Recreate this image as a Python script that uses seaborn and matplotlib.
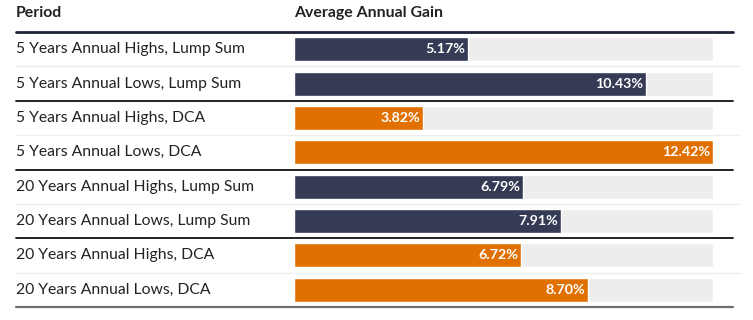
import pandas as pd
import seaborn as sns
import matplotlib.pyplot as plt
from matplotlib.transforms import blended_transform_factory

periods = [
    "5 Years Annual Highs, Lump Sum",
    "5 Years Annual Lows, Lump Sum",
    "5 Years Annual Highs, DCA",
    "5 Years Annual Lows, DCA",
    "20 Years Annual Highs, Lump Sum",
    "20 Years Annual Lows, Lump Sum",
    "20 Years Annual Highs, DCA",
    "20 Years Annual Lows, DCA",
]
gains = [5.17, 10.43, 3.82, 12.42, 6.79, 7.91, 6.72, 8.70]
strategy = ["Lump Sum", "Lump Sum", "DCA", "DCA", "Lump Sum", "Lump Sum", "DCA", "DCA"]

NAVY = "#353a55"
ORANGE = "#e07000"
TRACK = "#ededed"
TEXT = "#222222"

df = pd.DataFrame({"period": periods, "gain": gains, "strategy": strategy})
df["track"] = df["gain"].max()

sns.set_theme(style="white")
plt.rcParams["font.family"] = ["Lato", "DejaVu Sans"]

W, H = 753, 320
fig = plt.figure(figsize=(W / 100, H / 100), dpi=100)

# bar area in pixel terms: x 294..713, rows from y=32 to y=307
x0, x1 = 294, 713
y_top, y_bot = 32, 307
ax = fig.add_axes([x0 / W, 1 - y_bot / H, (x1 - x0) / W, (y_bot - y_top) / H])

sns.barplot(data=df, y="period", x="track", color=TRACK, width=0.7, ax=ax, saturation=1)
sns.barplot(data=df, y="period", x="gain", hue="strategy",
            palette={"Lump Sum": NAVY, "DCA": ORANGE}, width=0.7, dodge=False,
            ax=ax, saturation=1, legend=False)

ax.set_xlim(0, df["gain"].max())
ax.set_ylim(len(periods) - 0.5, -0.5)
ax.set_xlabel("")
ax.set_ylabel("")
ax.set_xticks([])
ax.set_yticks([])
for s in ax.spines.values():
    s.set_visible(False)
ax.patch.set_alpha(0)

# value labels inside bar ends
for i, v in enumerate(gains):
    ax.text(v - 0.08, i, f"{v:.2f}%", ha="right", va="center",
            color="white", fontsize=10.3, fontweight="bold")

# row labels and separators across the whole table
tr = blended_transform_factory(fig.transFigure, ax.transData)
for i, p in enumerate(periods):
    ax.text(16 / W, i, p, transform=tr, ha="left", va="center",
            color=TEXT, fontsize=11.3)

for i in range(len(periods)):
    yb = i + 0.5
    if i == len(periods) - 1:
        ax.plot([16 / W, 733 / W], [yb, yb], transform=tr, color="#6e6e6e",
                lw=1.6, clip_on=False)
    elif i % 2 == 1:
        ax.plot([16 / W, 733 / W], [yb, yb], transform=tr, color="#111111",
                lw=1.3, clip_on=False)
    else:
        ax.plot([16 / W, 740 / W], [yb, yb], transform=tr, color="#eeeeee",
                lw=1.0, clip_on=False)

ax.plot([16 / W, 733 / W], [-0.5, -0.5], transform=tr, color="#1e2238",
        lw=2.0, clip_on=False)

# header
fig.text(16 / W, 1 - 13 / H, "Period", ha="left", va="center",
         color=TEXT, fontsize=11.4, fontweight="bold")
fig.text(x0 / W, 1 - 13 / H, "Average Annual Gain", ha="left", va="center",
         color=TEXT, fontsize=11.4, fontweight="bold")

fig.savefig("out.png", dpi=100, facecolor="white")
